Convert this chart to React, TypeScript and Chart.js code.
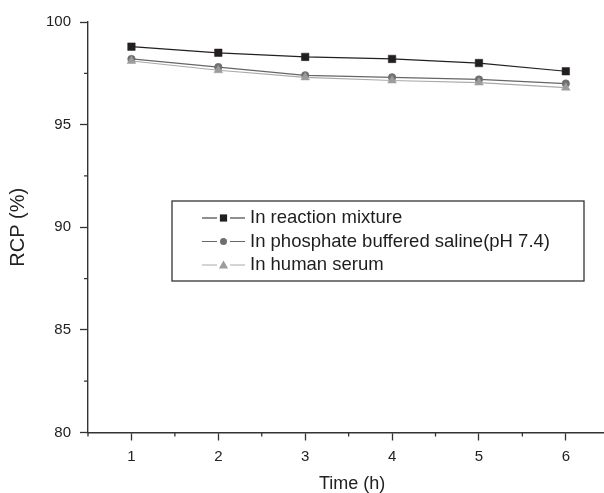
import React, { useEffect, useRef } from 'react';
import { Chart, registerables } from 'chart.js';

Chart.register(...registerables);

// ---- data ----
const timeHours = [1, 2, 3, 4, 5, 6];
const reactionMixture = [98.8, 98.5, 98.3, 98.2, 98.0, 97.6];
const phosphateSaline = [98.2, 97.8, 97.4, 97.3, 97.2, 97.0];
const humanSerum = [98.1, 97.65, 97.3, 97.15, 97.05, 96.8];
const seriesLabels = ['In reaction mixture', 'In phosphate buffered saline(pH 7.4)', 'In human serum'];
const xTicks = [1, 2, 3, 4, 5, 6];
const xMinorTicks = [0.5, 1.5, 2.5, 3.5, 4.5, 5.5, 6.5];
const yTicks = [80, 85, 90, 95, 100];
const yMinorTicks = [82.5, 87.5, 92.5, 97.5];

const FONT = '"Liberation Sans", Arial, Helvetica, sans-serif';
const AXIS = '#333333';

const toPoints = (vals: number[]) => vals.map((v, i) => ({ x: timeHours[i], y: v }));

const minorTickPlugin = {
  id: 'minorTicks',
  afterDraw(chart: any) {
    const { ctx, chartArea } = chart;
    const xs = chart.scales.x;
    const ys = chart.scales.y;
    ctx.save();
    ctx.strokeStyle = AXIS;
    ctx.lineWidth = 1.3;
    ctx.beginPath();
    xMinorTicks.forEach((v) => {
      const px = xs.getPixelForValue(v);
      ctx.moveTo(px, chartArea.bottom);
      ctx.lineTo(px, chartArea.bottom + 4);
    });
    yMinorTicks.forEach((v) => {
      const py = ys.getPixelForValue(v);
      ctx.moveTo(chartArea.left, py);
      ctx.lineTo(chartArea.left - 4, py);
    });
    ctx.stroke();
    ctx.restore();
  },
};

const legendPlugin = {
  id: 'boxLegend',
  afterDraw(chart: any) {
    const ctx = chart.ctx;
    ctx.save();
    ctx.strokeStyle = AXIS;
    ctx.lineWidth = 1.3;
    ctx.strokeRect(172, 201, 412, 80);
    chart.data.datasets.forEach((ds: any, i: number) => {
      const y = 218 + i * 23.5;
      const cx = 223.5;
      ctx.strokeStyle = ds.borderColor;
      ctx.lineWidth = 1.2;
      ctx.beginPath();
      ctx.moveTo(202, y);
      ctx.lineTo(217, y);
      ctx.moveTo(230, y);
      ctx.lineTo(245, y);
      ctx.stroke();
      ctx.fillStyle = ds.pointBackgroundColor;
      ctx.beginPath();
      if (ds.pointStyle === 'rect') {
        ctx.rect(cx - 3.6, y - 3.6, 7.2, 7.2);
      } else if (ds.pointStyle === 'circle') {
        ctx.arc(cx, y, 3.5, 0, Math.PI * 2);
      } else {
        ctx.moveTo(cx, y - 4.5);
        ctx.lineTo(cx - 4.6, y + 3.4);
        ctx.lineTo(cx + 4.6, y + 3.4);
        ctx.closePath();
      }
      ctx.fill();
      ctx.fillStyle = '#1e1e1e';
      ctx.font = `18.5px ${FONT}`;
      ctx.textBaseline = 'middle';
      ctx.textAlign = 'left';
      ctx.fillText(ds.label, 250, y);
    });
    ctx.restore();
  },
};

export default function App() {
  const canvasRef = useRef<HTMLCanvasElement | null>(null);

  useEffect(() => {
    if (!canvasRef.current) return;
    const chart = new Chart(canvasRef.current, {
      type: 'line',
      data: {
        datasets: [
          {
            label: seriesLabels[0],
            data: toPoints(reactionMixture),
            borderColor: '#231f20',
            backgroundColor: '#231f20',
            pointBackgroundColor: '#231f20',
            pointBorderColor: '#231f20',
            pointStyle: 'rect',
            pointRadius: 5.3,
            pointBorderWidth: 0.5,
            borderWidth: 1.2,
            order: 3,
          },
          {
            label: seriesLabels[1],
            data: toPoints(phosphateSaline),
            borderColor: '#666666',
            backgroundColor: '#6e6e6e',
            pointBackgroundColor: '#6e6e6e',
            pointBorderColor: '#6e6e6e',
            pointStyle: 'circle',
            pointRadius: 3.8,
            pointBorderWidth: 0.5,
            borderWidth: 1.2,
            order: 2,
          },
          {
            label: seriesLabels[2],
            data: toPoints(humanSerum),
            borderColor: '#aaaaaa',
            backgroundColor: '#9c9c9c',
            pointBackgroundColor: '#9c9c9c',
            pointBorderColor: '#9c9c9c',
            pointStyle: 'triangle',
            pointRadius: 5,
            pointBorderWidth: 0.5,
            borderWidth: 1.2,
            order: 1,
          },
        ],
      },
      options: {
        animation: false,
        responsive: false,
        maintainAspectRatio: false,
        layout: { padding: { top: 22, left: 0, right: 0, bottom: 0 } },
        plugins: {
          legend: { display: false },
          tooltip: { enabled: false },
        },
        scales: {
          x: {
            type: 'linear',
            min: 0.5,
            max: 6.58,
            afterBuildTicks: (scale: any) => {
              scale.ticks = xTicks.map((v) => ({ value: v }));
            },
            afterFit: (scale: any) => {
              scale.height = 60.5;
            },
            border: { display: true, color: AXIS, width: 1.4 },
            grid: {
              display: true,
              drawOnChartArea: false,
              drawTicks: true,
              tickLength: 8,
              tickColor: AXIS,
              tickWidth: 1.3,
            },
            ticks: {
              padding: 7.5,
              color: '#222',
              font: { family: FONT, size: 15 },
              callback: (v: any) => String(v),
            },
            title: {
              display: true,
              text: 'Time (h)',
              color: '#222',
              font: { family: FONT, size: 18, lineHeight: 1 },
              padding: { top: 0, bottom: 0 },
            },
          },
          y: {
            type: 'linear',
            min: 80,
            max: 100,
            afterBuildTicks: (scale: any) => {
              scale.ticks = yTicks.map((v) => ({ value: v }));
            },
            afterFit: (scale: any) => {
              scale.width = 88;
            },
            border: { display: true, color: AXIS, width: 1.4 },
            grid: {
              display: true,
              drawOnChartArea: false,
              drawTicks: true,
              tickLength: 8,
              tickColor: AXIS,
              tickWidth: 1.3,
            },
            ticks: {
              padding: 9,
              color: '#222',
              font: { family: FONT, size: 15 },
              callback: (v: any) => String(v),
            },
            title: {
              display: true,
              text: 'RCP (%)',
              color: '#222',
              font: { family: FONT, size: 20, lineHeight: 1 },
              padding: { top: 8.5, bottom: 0 },
            },
          },
        },
      },
      plugins: [minorTickPlugin, legendPlugin],
    });
    return () => chart.destroy();
  }, []);

  return (
    <div
      style={{
        position: 'fixed',
        left: 0,
        top: 0,
        width: 604,
        height: 493,
        overflow: 'hidden',
        background: '#fff',
      }}
    >
      <canvas ref={canvasRef} width={622} height={493} style={{ display: 'block' }} />
    </div>
  );
}
